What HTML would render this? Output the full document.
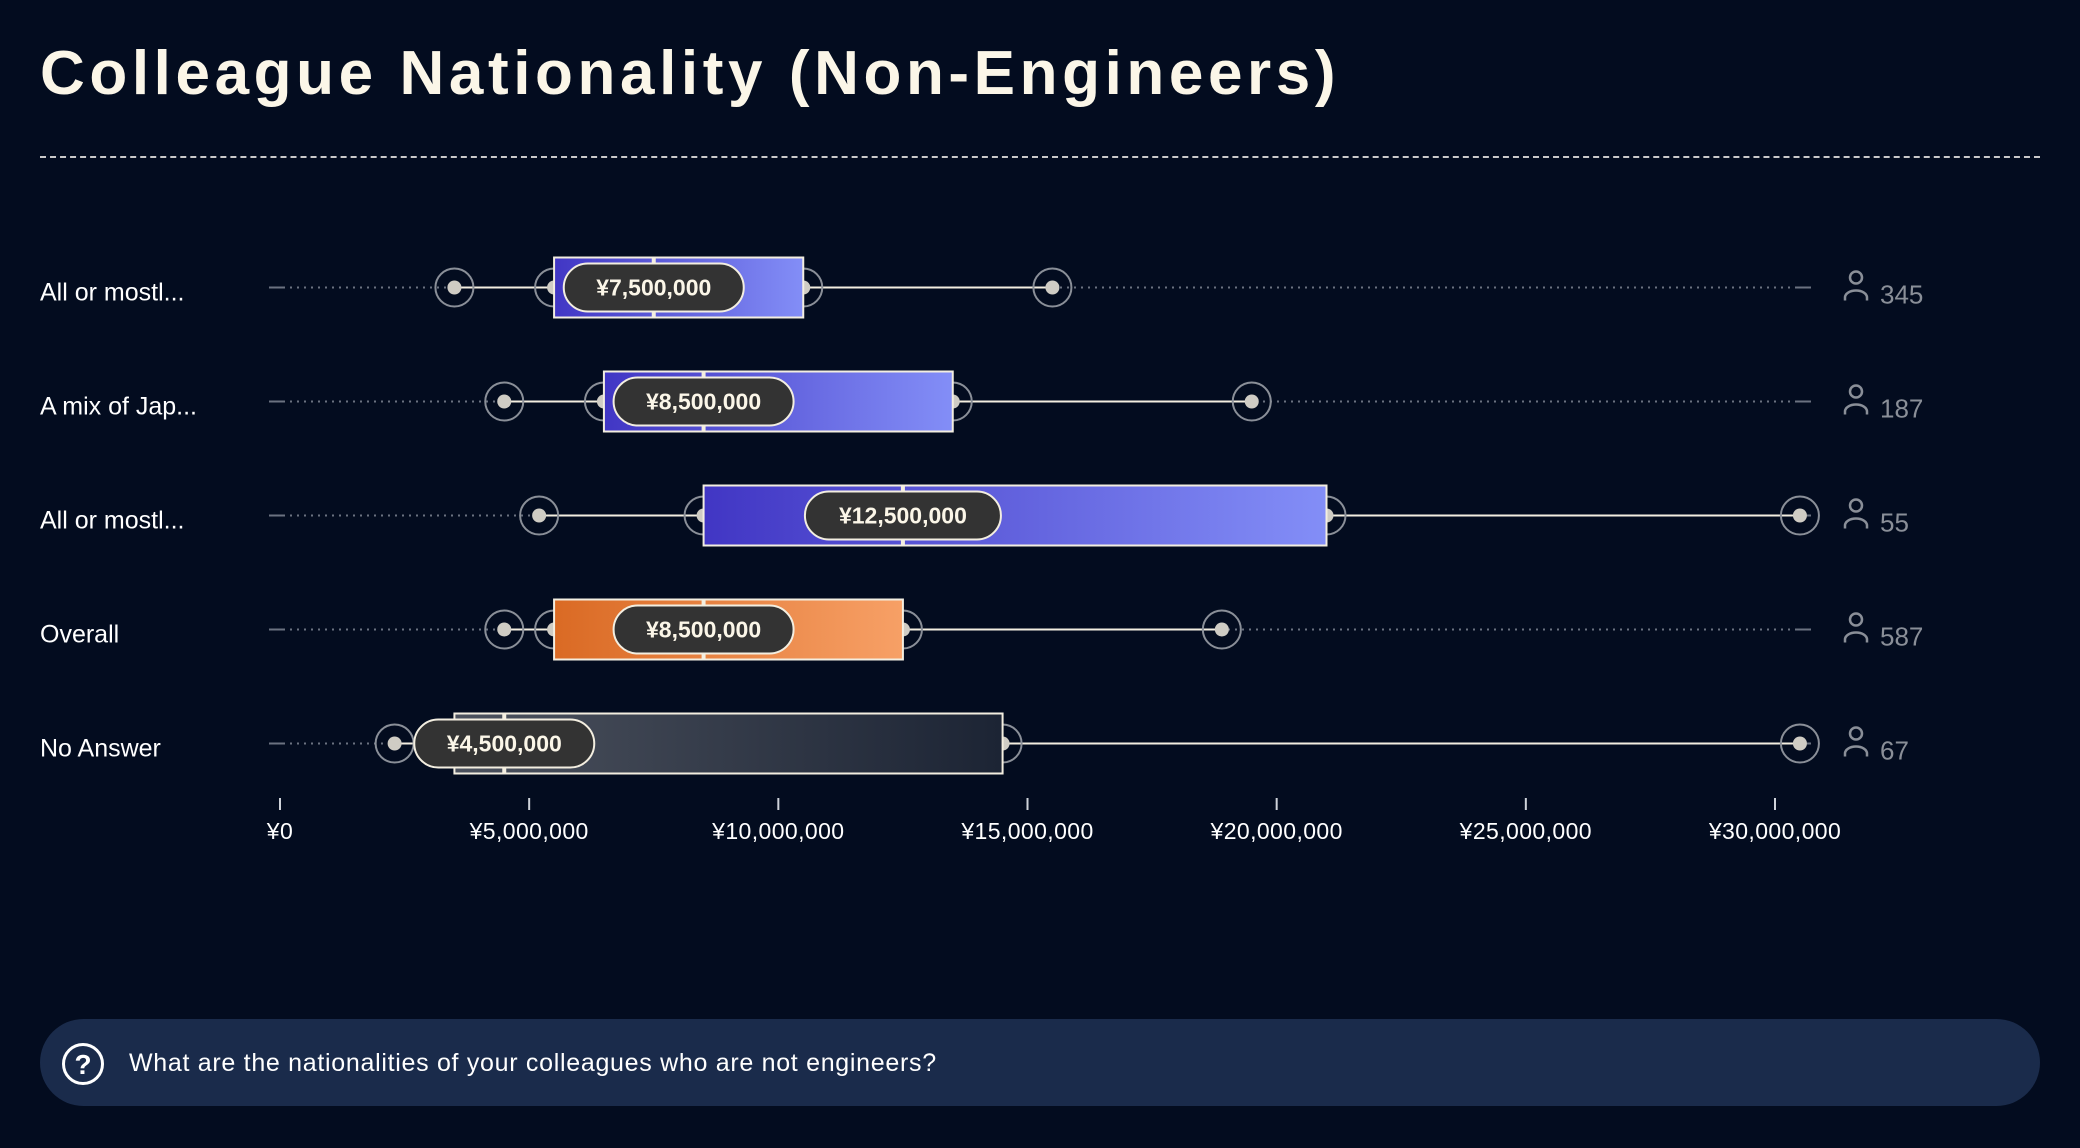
<!DOCTYPE html>
<html><head><meta charset="utf-8"><style>
html,body{margin:0;padding:0;background:#030c1f;width:2080px;height:1148px;overflow:hidden;font-family:"Liberation Sans",sans-serif}
#title{position:absolute;left:40px;top:38px;margin:0;font-size:62px;font-weight:bold;color:#fbf6e8;letter-spacing:4.6px}
#rule{position:absolute;left:40px;top:156px;width:2000px;border-top:2px dashed #c9c9c9}
#footer{position:absolute;left:40px;top:1019px;width:2000px;height:87px;border-radius:44px;background:#1a2b4b}
#qicon{position:absolute;left:22px;top:24px;width:42px;height:42px;border:3px solid #fff;border-radius:50%;box-sizing:border-box;color:#fff;font-weight:bold;font-size:28px;text-align:center;line-height:37px}
#qtext{position:absolute;left:89px;top:30px;color:#fff;font-size:25px;letter-spacing:0.7px}
svg{position:absolute;left:0;top:0}
</style></head><body>
<h1 id="title">Colleague Nationality (Non-Engineers)</h1>
<div id="rule"></div>
<svg id="chart" width="2080" height="1000">
<defs>
<linearGradient id="gBlue" x1="0" x2="1"><stop offset="0" stop-color="#4136c4"/><stop offset="1" stop-color="#838ef7"/></linearGradient>
<linearGradient id="gOrange" x1="0" x2="1"><stop offset="0" stop-color="#da6a24"/><stop offset="1" stop-color="#f7a066"/></linearGradient>
<linearGradient id="gGray" x1="0" x2="1"><stop offset="0" stop-color="#4c525e"/><stop offset="1" stop-color="#1c2434"/></linearGradient>
</defs>
</svg>
<div id="footer">
<div id="qicon">?</div>
<div id="qtext">What are the nationalities of your colleagues who are not engineers?</div>
</div>
<script>
const categories=["All or mostl...","A mix of Jap...","All or mostl...","Overall","No Answer"];
const mins=[3.5,4.5,5.2,4.5,2.3];
const q1s=[5.5,6.5,8.5,5.5,3.5];
const medians=[7.5,8.5,12.5,8.5,4.5];
const q3s=[10.5,13.5,21,12.5,14.5];
const maxs=[15.5,19.5,30.5,18.9,30.5];
const counts=[345,187,55,587,67];
const medianLabels=["¥7,500,000","¥8,500,000","¥12,500,000","¥8,500,000","¥4,500,000"];
const tickValues=[0,5,10,15,20,25,30];
const tickLabels=["¥0","¥5,000,000","¥10,000,000","¥15,000,000","¥20,000,000","¥25,000,000","¥30,000,000"];
const fills=["url(#gBlue)","url(#gBlue)","url(#gBlue)","url(#gOrange)","url(#gGray)"];

const svg=document.getElementById('chart');
const NS='http://www.w3.org/2000/svg';
const x=v=>280+v*(1775-280)/30;
const y=i=>287.5+i*114;
function mk(tag,attrs,parent){const e=document.createElementNS(NS,tag);for(const k in attrs)e.setAttribute(k,attrs[k]);(parent||svg).appendChild(e);return e;}

tickValues.forEach((t,i)=>{
  const tk=mk('line',{x1:x(t),x2:x(t),y1:798,y2:810,stroke:'#cfd3da','stroke-width':2});
  
  
  const tl=mk('text',{x:x(t),y:839,fill:'#ffffff','font-size':23,'text-anchor':'middle','letter-spacing':'0.4'});
  tl.textContent=tickLabels[i];
  
  
});

categories.forEach((c,i)=>{
  const cy=y(i);
  const g=mk('g',{});
  
  
  const lab=mk('text',{x:40,y:cy+13,fill:'#ffffff','font-size':25},g);
  lab.textContent=c;
  
  
  mk('line',{x1:269,x2:283,y1:cy,y2:cy,stroke:'#6b7280','stroke-width':2},g);
  mk('line',{x1:283,x2:1797,y1:cy,y2:cy,stroke:'#6b7280','stroke-width':2,'stroke-dasharray':'2 5'},g);
  mk('line',{x1:1797,x2:1811,y1:cy,y2:cy,stroke:'#6b7280','stroke-width':2},g);
  const wh=mk('line',{x1:x(mins[i]),x2:x(maxs[i]),y1:cy,y2:cy,stroke:'#f3eee0','stroke-width':2},g);
  
  
  [mins[i],q1s[i],q3s[i],maxs[i]].forEach(v=>{
    mk('circle',{cx:x(v),cy:cy,r:19,fill:'none',stroke:'#8a8f98','stroke-width':2},g);
    const d=mk('circle',{cx:x(v),cy:cy,r:7,fill:'#cfccc4'},g);
    
    
  });
  const box=mk('rect',{x:x(q1s[i]),y:cy-30,width:x(q3s[i])-x(q1s[i]),height:60,fill:fills[i],stroke:'#f3eee0','stroke-width':2},g);
  
  
  const mx=x(medians[i]);
  const ml=mk('line',{x1:mx,x2:mx,y1:cy-30,y2:cy+30,stroke:'#f3eee0','stroke-width':4},g);
  
  
  const pw=medianLabels[i].length>10?196:180;
  const pill=mk('rect',{x:mx-pw/2,y:cy-24,width:pw,height:48,rx:24,fill:'#333333',stroke:'#f3eee0','stroke-width':2},g);
  
  
  const pt=mk('text',{x:mx,y:cy+8,fill:'#fbf6e8','font-size':23,'font-weight':'bold','text-anchor':'middle'},g);
  pt.textContent=medianLabels[i];
  
  
  const ic=mk('g',{stroke:'#8a8f98','stroke-width':2.5,fill:'none'},g);
  
  
  mk('circle',{cx:1856,cy:cy-10,r:6},ic);
  mk('path',{d:`M1845 ${cy+13} v-3 a11 7 0 0 1 22 0 v3`},ic);
  const ct=mk('text',{x:1880,y:cy+16,fill:'#8a8f98','font-size':26},g);
  ct.textContent=counts[i];
  
  
});
</script>
</body></html>
